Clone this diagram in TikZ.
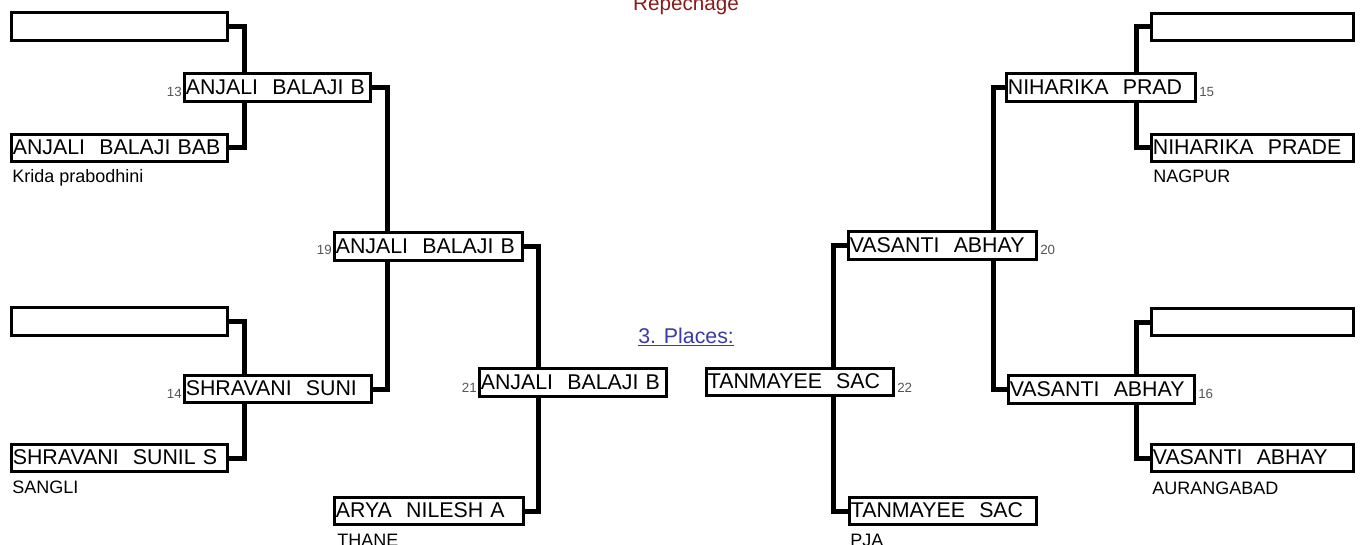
\documentclass[tikz,border=0pt]{standalone}
\usepackage{fontspec}
\setmainfont{Liberation Sans}
\definecolor{repred}{HTML}{8B1A1A}
\definecolor{plblue}{HTML}{3A3AA8}
\definecolor{numgray}{HTML}{555555}
\newcommand{\pbx}[6]{%
  \pgfmathsetlengthmacro{\pbxw}{(#4-#2-3)*0.75pt}%
  \pgfmathsetlengthmacro{\pbxh}{(#5-#3-3)*0.75pt}%
  \pgfmathsetlengthmacro{\pbxt}{(#4-#2-3)*0.75pt-2pt}%
  \node[pbox, minimum width=\pbxw, minimum height=\pbxh, text width=\pbxt] (#1) at ({(#2+#4)/2},{(#3+#5)/2}) {#6};}
\begin{document}
\begin{tikzpicture}[x=0.75pt,y=-0.75pt,
  pbox/.style={draw=black, line width=2.25pt, fill=white, rectangle, inner xsep=1pt, inner ysep=0pt,
    align=left, font=\fontsize{16}{18}\selectfont, text height=11.6pt, text depth=1.6pt},
  conn/.style={draw=black, line width=3.75pt, line join=miter},
  num/.style={font=\fontsize{10}{12}\selectfont, text=numgray, inner sep=0pt},
  club/.style={font=\fontsize{13.5}{15}\selectfont, inner sep=0pt, anchor=base west}]
\useasboundingbox (0,0) rectangle (1363,545);
% connectors (drawn under boxes)
\coordinate (cA) at (244,0);
\coordinate (cB) at (387,0);
\coordinate (cC) at (538,0);
\coordinate (cD) at (833,0);
\coordinate (cE) at (993,0);
\coordinate (cF) at (1136,0);
% boxes
\pbx{l1a}{10}{11}{229}{42}{}
\pbx{m13}{183}{72}{372}{103}{ANJALI\ \ BALAJI B}
\pbx{l1b}{10}{133}{229}{163}{ANJALI\ \ BALAJI BAB}
\pbx{l2a}{10}{306}{229}{337}{}
\pbx{m14}{183}{374}{373}{404}{SHRAVANI\ \ SUNI}
\pbx{l2b}{10}{443}{229}{473}{SHRAVANI\ \ SUNIL S}
\pbx{m19}{333}{231}{524}{262}{ANJALI\ \ BALAJI B}
\pbx{m21}{478}{367}{668}{398}{ANJALI\ \ BALAJI B}
\pbx{arya}{333}{496}{525}{526}{ARYA\ \ NILESH A}
\pbx{m22}{705}{367}{895}{397}{TANMAYEE\ \ SAC}
\pbx{tanb}{848}{496}{1038}{526}{TANMAYEE\ \ SAC}
\pbx{m20}{847}{230}{1038}{261}{VASANTI\ \ ABHAY}
\pbx{m15}{1005}{72}{1197}{103}{NIHARIKA\ \ PRAD}
\pbx{r1a}{1150}{12}{1355}{42}{}
\pbx{r1b}{1150}{133}{1355}{163}{NIHARIKA\ \ PRADE}
\pbx{m16}{1007}{374}{1196}{405}{VASANTI\ \ ABHAY}
\pbx{r2a}{1150}{307}{1355}{337}{}
\pbx{r2b}{1150}{443}{1355}{473}{VASANTI\ \ ABHAY}
% connectors
\draw[conn] (l1a.east) -| (cA |- m13.north);
\draw[conn] (l1b.east) -| (cA |- m13.south);
\draw[conn] (l2a.east) -| (cA |- m14.north);
\draw[conn] (l2b.east) -| (cA |- m14.south);
\draw[conn] (m13.east) -| (cB |- m19.north);
\draw[conn] (m14.east) -| (cB |- m19.south);
\draw[conn] (m19.east) -| (cC |- m21.north);
\draw[conn] (arya.east) -| (cC |- m21.south);
\draw[conn] (m20.west) -| (cD |- m22.north);
\draw[conn] (tanb.west) -| (cD |- m22.south);
\draw[conn] (m15.west) -| (cE |- m20.north);
\draw[conn] (m16.west) -| (cE |- m20.south);
\draw[conn] (r1a.west) -| (cF |- m15.north);
\draw[conn] (r1b.west) -| (cF |- m15.south);
\draw[conn] (r2a.west) -| (cF |- m16.north);
\draw[conn] (r2b.west) -| (cF |- m16.south);
% match numbers
\node[num, anchor=base east] (n13) at (182,97) {13};
\node[num, anchor=base east] (n14) at (182,398) {14};
\node[num, anchor=base east] (n19) at (332,255) {19};
\node[num, anchor=base east] (n21) at (477,392) {21};
\node[num, anchor=base west] (n15) at (1199,97) {15};
\node[num, anchor=base west] (n20) at (1040,255) {20};
\node[num, anchor=base west] (n22) at (897,392) {22};
\node[num, anchor=base west] (n16) at (1198,398) {16};
% clubs
\node[club] (k1) at (12,183) {Krida prabodhini};
\node[club] (k2) at (12,493) {SANGLI};
\node[club] (k3) at (337,546) {THANE};
\node[club] (k4) at (850,546) {PJA};
\node[club] (k5) at (1153,183) {NAGPUR};
\node[club] (k6) at (1152,494) {AURANGABAD};
% titles
\node[anchor=base, inner sep=0pt, text=repred, font=\fontsize{15.5}{17}\selectfont] (rep) at (686,11) {Repechage};
\node[anchor=base west, inner sep=0pt, text=plblue, font=\fontsize{16}{18}\selectfont] (pl) at (638,343) {\underline{3. Places:}};
\end{tikzpicture}
\end{document}
